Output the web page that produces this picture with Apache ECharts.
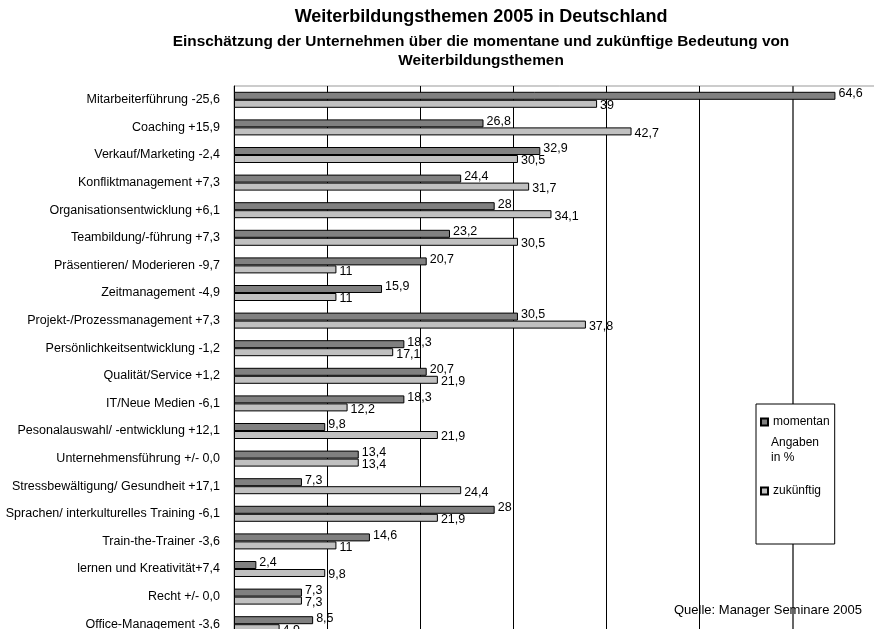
<!DOCTYPE html>
<html>
<head>
<meta charset="utf-8">
<script src="https://cdn.jsdelivr.net/npm/echarts@6/dist/echarts.min.js"></script>
<style>
  html, body { margin: 0; padding: 0; background: #fff; width: 874px; height: 629px; overflow: hidden; }
  /* Diagramm ist im Original rechts und unten abgeschnitten */
  #chart { width: 900px; height: 645px; }
</style>
</head>
<body>
<div id="chart"></div>
<script>
  // Kategorien (Thema + Veränderung)
  var categories = [
    'Mitarbeiterführung -25,6',
    'Coaching +15,9',
    'Verkauf/Marketing -2,4',
    'Konfliktmanagement +7,3',
    'Organisationsentwicklung +6,1',
    'Teambildung/-führung +7,3',
    'Präsentieren/ Moderieren -9,7',
    'Zeitmanagement -4,9',
    'Projekt-/Prozessmanagement +7,3',
    'Persönlichkeitsentwicklung -1,2',
    'Qualität/Service +1,2',
    'IT/Neue Medien -6,1',
    'Pesonalauswahl/ -entwicklung +12,1',
    'Unternehmensführung +/- 0,0',
    'Stressbewältigung/ Gesundheit +17,1',
    'Sprachen/ interkulturelles Training -6,1',
    'Train-the-Trainer -3,6',
    'lernen und Kreativität+7,4',
    'Recht +/- 0,0',
    'Office-Management -3,6'
  ];
  var momentan = [64.6, 26.8, 32.9, 24.4, 28, 23.2, 20.7, 15.9, 30.5, 18.3, 20.7, 18.3, 9.8, 13.4, 7.3, 28, 14.6, 2.4, 7.3, 8.5];
  var zukuenftig = [39, 42.7, 30.5, 31.7, 34.1, 30.5, 11, 11, 37.8, 17.1, 21.9, 12.2, 21.9, 13.4, 24.4, 21.9, 11, 9.8, 7.3, 4.9];
  var seriesNames = ['momentan', 'zukünftig'];
  var xMax = 70;
  var xStep = 10;
  var refLine = 60;

  var font = 'Liberation Sans, Arial, sans-serif';
  var myChart = echarts.init(document.getElementById('chart'));

  function deComma(p) {
    return String(p.value).replace('.', ',');
  }

  myChart.setOption({
    animation: false,
    textStyle: { fontFamily: font },
    title: [{
      text: 'Weiterbildungsthemen 2005 in Deutschland',
      left: 476, top: 3, textAlign: 'center',
      textStyle: { fontSize: 18, fontWeight: 'bold', color: '#000', fontFamily: font }
    }, {
      text: 'Einschätzung der Unternehmen über die momentane und zukünftige Bedeutung von\nWeiterbildungsthemen',
      left: 476, top: 27, textAlign: 'center',
      textStyle: { fontSize: 15.4, fontWeight: 'bold', color: '#000', lineHeight: 19, fontFamily: font }
    }],
    legend: {
      data: seriesNames,
      orient: 'vertical',
      left: 756, top: 404,
      itemWidth: 7, itemHeight: 7,
      itemGap: 57,
      padding: [12, 5, 47, 4],
      borderColor: '#000', borderWidth: 1,
      backgroundColor: '#fff',
      icon: 'rect',
      textStyle: { fontSize: 12, color: '#000', fontFamily: font }
    },
    graphic: [{
      type: 'text', left: 771, top: 435, z: 100,
      style: { text: 'Angaben\nin %', fontSize: 12, lineHeight: 15, fill: '#000', fontFamily: font }
    }, {
      type: 'text', left: 674, top: 604, z: 100,
      style: { text: 'Quelle: Manager Seminare 2005', fontSize: 13, fill: '#000', fontFamily: font }
    }],
    grid: {
      left: 234, top: 86, width: 651.7, height: 552,
      show: true, borderColor: '#999', borderWidth: 1
    },
    xAxis: {
      type: 'value', min: 0, max: xMax, interval: xStep,
      axisLine: { show: false },
      axisTick: { show: false },
      axisLabel: { show: false },
      splitLine: { lineStyle: { color: '#000', width: 1 } }
    },
    yAxis: {
      type: 'category', data: categories, inverse: true,
      axisLine: { lineStyle: { color: '#000', width: 1 } },
      axisTick: { length: 4, lineStyle: { color: '#000' } },
      axisLabel: { fontSize: 12.5, color: '#000', margin: 14, fontFamily: font }
    },
    series: [{
      name: seriesNames[0], type: 'bar', data: momentan,
      barWidth: 8, barGap: '0%',
      itemStyle: { color: '#808080', borderColor: '#000', borderWidth: 1 },
      label: { show: true, position: 'right', distance: 3, offset: [0, -2], fontSize: 12.5, color: '#000', formatter: deComma },
      markLine: {
        silent: true, symbol: 'none', z: 1,
        label: { show: false },
        lineStyle: { color: '#666', width: 2, type: 'solid' },
        data: [{ xAxis: refLine }]
      }
    }, {
      name: seriesNames[1], type: 'bar', data: zukuenftig,
      barWidth: 8,
      itemStyle: { color: '#c0c0c0', borderColor: '#000', borderWidth: 1 },
      label: { show: true, position: 'right', distance: 3, offset: [0, 2], fontSize: 12.5, color: '#000', formatter: deComma }
    }]
  });
</script>
</body>
</html>
